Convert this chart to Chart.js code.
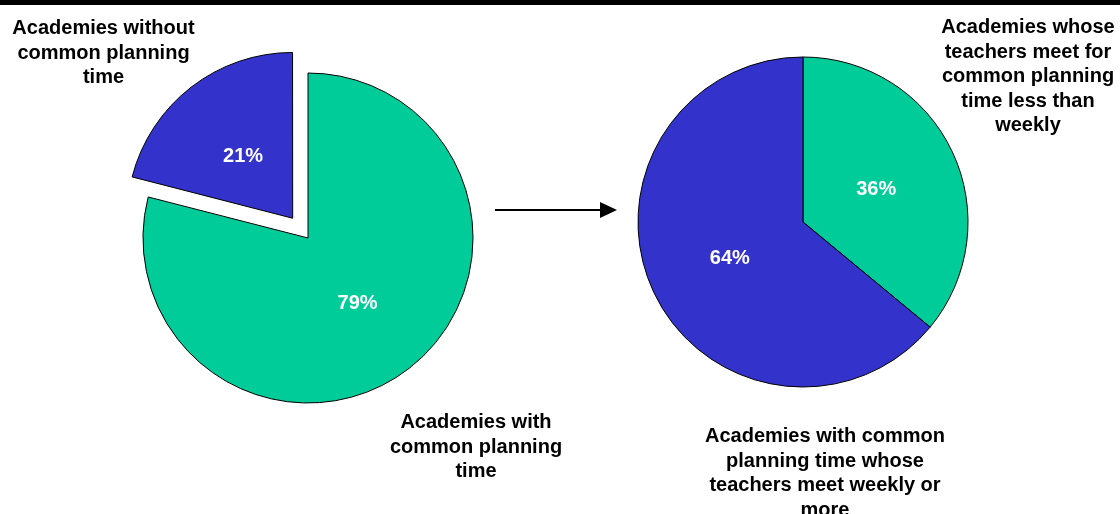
<!DOCTYPE html>
<html>
<head>
<meta charset="utf-8">
<script src="https://cdn.jsdelivr.net/npm/chart.js@4/dist/chart.umd.min.js"></script>
<style>
  html, body { margin: 0; padding: 0; background: #fff; }
  #stage { position: relative; width: 1120px; height: 514px; overflow: hidden; background: #fff; }
  #topbar { position: absolute; left: 0; top: 0; width: 1120px; height: 5px; background: #000; }
  canvas { position: absolute; }
  .cat {
    position: absolute; text-align: center; color: #000;
    font-family: "Liberation Sans", Arial, sans-serif; font-weight: bold;
    font-size: 20px; line-height: 24.5px;
  }
  #arrow { position: absolute; left: 0; top: 0; }
</style>
</head>
<body>
<div id="stage">
  <div id="topbar"></div>
  <canvas id="pieAll" width="400" height="400" style="left:108px;top:38px"></canvas>
  <canvas id="pieCpt" width="400" height="400" style="left:603px;top:22px"></canvas>
  <svg id="arrow" width="1120" height="514">
    <line x1="495" y1="210" x2="602" y2="210" stroke="#000" stroke-width="2"/>
    <polygon points="600,202 617,210 600,218" fill="#000"/>
  </svg>
  <div class="cat" id="lblWithout" style="left:6px;top:15px;width:195px"></div>
  <div class="cat" id="lblWith" style="left:381px;top:409px;width:190px"></div>
  <div class="cat" id="lblLess" style="left:935px;top:14px;width:186px"></div>
  <div class="cat" id="lblWeekly" style="left:700px;top:423px;width:250px"></div>
</div>
<script>
// Share of academies with / without common planning time
const allCategories = ["Academies with common planning time", "Academies without common planning time"];
const allValues = [79, 21];

// Among academies with common planning time: how often teachers meet
const cptCategories = ["Academies whose teachers meet for common planning time less than weekly",
                       "Academies with common planning time whose teachers meet weekly or more"];
const cptValues = [36, 64];

const GREEN = "#00CC99";
const BLUE = "#3333CC";

document.getElementById("lblWith").textContent = allCategories[0];
document.getElementById("lblWithout").textContent = allCategories[1];
document.getElementById("lblLess").textContent = cptCategories[0];
document.getElementById("lblWeekly").textContent = cptCategories[1];

// Writes each slice's percentage inside it, halfway out along the slice's middle angle.
// Chart.js shifts an exploded arc by a quarter of its "offset" option.
const percentLabels = {
  id: "percentLabels",
  afterDatasetsDraw(chart) {
    const ctx = chart.ctx;
    const meta = chart.getDatasetMeta(0);
    const values = chart.data.datasets[0].data;
    const total = values.reduce((a, b) => a + b, 0);
    ctx.save();
    ctx.fillStyle = "#fff";
    ctx.font = "bold 20px 'Liberation Sans', Arial, sans-serif";
    ctx.textAlign = "center";
    ctx.textBaseline = "middle";
    meta.data.forEach((arc, i) => {
      const mid = (arc.startAngle + arc.endAngle) / 2;
      const shift = (arc.options.offset || 0) / 4;
      const d = shift + arc.outerRadius * 0.49;
      const x = arc.x + Math.cos(mid) * d;
      const y = arc.y + Math.sin(mid) * d + 2;
      ctx.fillText(Math.round(values[i] / total * 100) + "%", x, y);
    });
    ctx.restore();
  }
};

function makePie(id, labels, values, offsets) {
  return new Chart(document.getElementById(id), {
    type: "pie",
    data: {
      labels: labels,
      datasets: [{
        data: values,
        backgroundColor: [GREEN, BLUE],
        borderColor: "#000",
        borderWidth: 1,
        offset: offsets,
        radius: 165
      }]
    },
    options: {
      responsive: false,
      animation: false,
      events: [],
      layout: { padding: 0 },
      plugins: { legend: { display: false }, tooltip: { enabled: false } }
    },
    plugins: [percentLabels]
  });
}

makePie("pieAll", allCategories, allValues, [0, 100]);
makePie("pieCpt", cptCategories, cptValues, [0, 0]);
</script>
</body>
</html>
